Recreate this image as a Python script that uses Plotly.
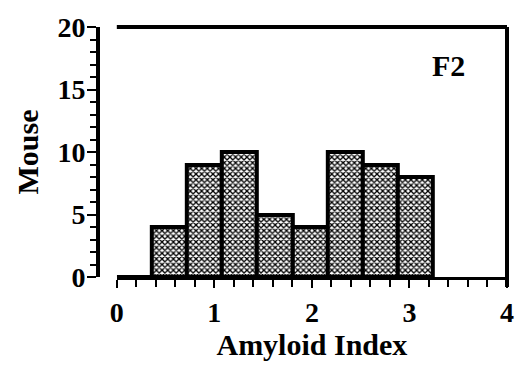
import plotly.graph_objects as go

# Data
bin_starts = [0.0, 0.36, 0.72, 1.08, 1.44, 1.80, 2.16, 2.52, 2.88]
bin_width = 0.36
mouse_counts = [0, 4, 9, 10, 5, 4, 10, 9, 8]
x_ticks = [0, 1, 2, 3, 4]
y_ticks = [0, 5, 10, 15, 20]
panel_label = "F2"

FONT = dict(family="Liberation Serif", weight="bold", color="black")

fig = go.Figure()
fig.add_trace(go.Bar(
    x=bin_starts,
    y=mouse_counts,
    width=[bin_width] * len(bin_starts),
    offset=0,
    marker=dict(
        color="white",
        line=dict(color="black", width=4),
        pattern=dict(shape="x", fgcolor="black", bgcolor="white",
                     size=4, solidity=0.55, fillmode="replace"),
    ),
    showlegend=False,
))

fig.update_layout(
    width=523, height=373,
    margin=dict(l=90, r=24, t=19, b=104),
    paper_bgcolor="white", plot_bgcolor="white",
    bargap=0,
    xaxis=dict(
        domain=[0.046, 1], range=[0, 4], automargin=False,
        tickvals=x_ticks, ticktext=[str(v) for v in x_ticks],
        showline=True, linecolor="black", linewidth=3,
        ticks="outside", ticklen=8, tickwidth=2, tickcolor="black",
        minor=dict(dtick=0.2, ticks="outside", ticklen=7, tickwidth=2, tickcolor="black"),
        showgrid=False, zeroline=False,
        tickfont=dict(size=28, **FONT), ticklabelstandoff=0,
        title=dict(text="Amyloid Index", font=dict(size=30, **FONT), standoff=8),
    ),
    yaxis=dict(
        anchor="free", position=0, range=[0, 20], automargin=False,
        tickvals=y_ticks, ticktext=[str(v) for v in y_ticks],
        showline=True, linecolor="black", linewidth=4,
        ticks="outside", ticklen=9, tickwidth=2, tickcolor="black",
        minor=dict(dtick=1, ticks="outside", ticklen=6, tickwidth=2, tickcolor="black"),
        showgrid=False, zeroline=False,
        tickfont=dict(size=28, **FONT), ticklabelstandoff=-4,
        title=dict(text="Mouse", font=dict(size=30, **FONT), standoff=9),
    ),
    shapes=[
        dict(type="line", xref="x domain", yref="y domain", x0=0, x1=1, y0=1, y1=1,
             line=dict(color="black", width=4)),
        dict(type="line", xref="x domain", yref="y domain", x0=1, x1=1, y0=1, y1=-0.04,
             line=dict(color="black", width=4)),
    ],
    annotations=[
        dict(text=panel_label, xref="x domain", yref="y domain", x=0.849, y=0.845,
             xanchor="center", yanchor="middle",
             showarrow=False, font=dict(size=30, **FONT)),
    ],
)

fig.write_html("out.html")
